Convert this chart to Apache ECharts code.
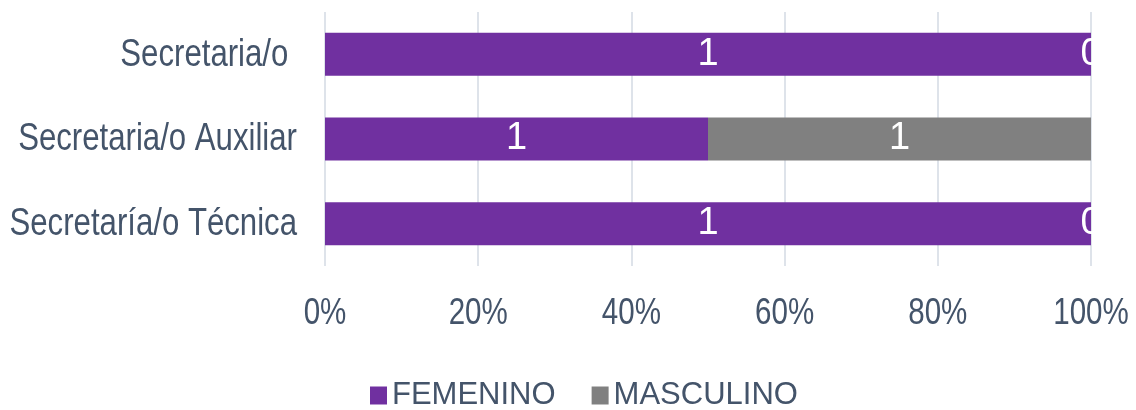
<!DOCTYPE html>
<html>
<head>
<meta charset="utf-8">
<script src="https://cdn.jsdelivr.net/npm/echarts@6/dist/echarts.min.js"></script>
<style>
  html, body { margin: 0; padding: 0; background: #fff; }
  #chart { width: 1136px; height: 410px; }
</style>
</head>
<body>
<div id="chart"></div>
<script>
// Puestos (de arriba hacia abajo) y conteos por sexo
const categories = ['Secretaria/o ', 'Secretaria/o Auxiliar', 'Secretaría/o Técnica'];
const femenino = [1, 1, 1];
const masculino = [0, 1, 0];
const xTicks = [0, 20, 40, 60, 80, 100];

const SANS = '"Liberation Sans", Arial, sans-serif';
const TEXT = '#44546A';
const NARROW_SCALE = 0.82;   // tipografía estrecha para los rótulos de los ejes
const CAT_FONT = '38px ' + SANS;
const TICK_FONT = '36px ' + SANS;

// 100% apilado: cada barra es la proporción del total del puesto
const totals = femenino.map((f, i) => f + masculino[i]);
const share = (arr) => arr.map((v, i) => ({ value: totals[i] ? v / totals[i] * 100 : 0, count: v }));

// ECharts pinta la categoría 0 abajo; se invierte para mantener el orden de lectura
const cats = categories.slice().reverse();
const femData = share(femenino).reverse();
const mascData = share(masculino).reverse();

const label = {
  show: true,
  position: 'inside',
  color: '#fff',
  fontFamily: SANS,
  fontSize: 38,
  formatter: (p) => String(p.data.count)
};

const chart = echarts.init(document.getElementById('chart'), null, { renderer: 'canvas' });
chart.setOption({
  animation: false,
  grid: { left: 325, right: 45, top: 12, bottom: 144, containLabel: false, outerBoundsMode: 'none' },
  xAxis: {
    type: 'value',
    min: xTicks[0],
    max: xTicks[xTicks.length - 1],
    interval: xTicks[1] - xTicks[0],
    axisLine: { show: false },
    axisTick: { show: false },
    splitLine: { show: true, lineStyle: { color: '#DEE3EA', width: 2 } },
    axisLabel: { show: false }
  },
  yAxis: {
    type: 'category',
    data: cats,
    axisLine: { show: false },
    axisTick: { show: false },
    axisLabel: { show: false }
  },
  legend: {
    left: 370,
    top: 380,
    padding: 0,
    icon: 'rect',
    itemWidth: 17,
    itemHeight: 18,
    itemGap: 36,
    textStyle: { color: TEXT, fontFamily: SANS, fontSize: 31 },
    data: ['FEMENINO', 'MASCULINO']
  },
  series: [
    {
      name: 'FEMENINO', type: 'bar', stack: 'total', barWidth: 43,
      itemStyle: { color: '#7030A0' }, label, data: femData
    },
    {
      name: 'MASCULINO', type: 'bar', stack: 'total', barWidth: 43,
      itemStyle: { color: '#808080' }, label, data: mascData
    }
  ]
});

// Rótulos de ejes en letra estrecha, situados con las escalas del gráfico
const graphics = [];
cats.forEach((c) => {
  const p = chart.convertToPixel({ gridIndex: 0 }, [xTicks[0], c]);
  graphics.push({
    type: 'text', x: p[0] - 28, y: p[1] + 1, scaleX: NARROW_SCALE, silent: true,
    style: { text: c, font: CAT_FONT, fill: TEXT, align: 'right', verticalAlign: 'middle' }
  });
});
xTicks.forEach((t) => {
  const p = chart.convertToPixel({ gridIndex: 0 }, [t, cats[0]]);
  graphics.push({
    type: 'text', x: p[0], y: 314, scaleX: NARROW_SCALE, silent: true,
    style: { text: t + '%', font: TICK_FONT, fill: TEXT, align: 'center', verticalAlign: 'middle' }
  });
});

// Las etiquetas de valor cero quedan recortadas por el borde del área de trazado
const maxX = xTicks[xTicks.length - 1];
mascData.forEach((d, i) => {
  if (d.value === 0) {
    const p = chart.convertToPixel({ gridIndex: 0 }, [maxX, cats[i]]);
    graphics.push({
      type: 'rect', z: 100, silent: true,
      shape: { x: p[0] + 1, y: p[1] - 22, width: 30, height: 44 },
      style: { fill: '#fff' }
    });
  }
});
chart.setOption({ graphic: graphics });
</script>
</body>
</html>
